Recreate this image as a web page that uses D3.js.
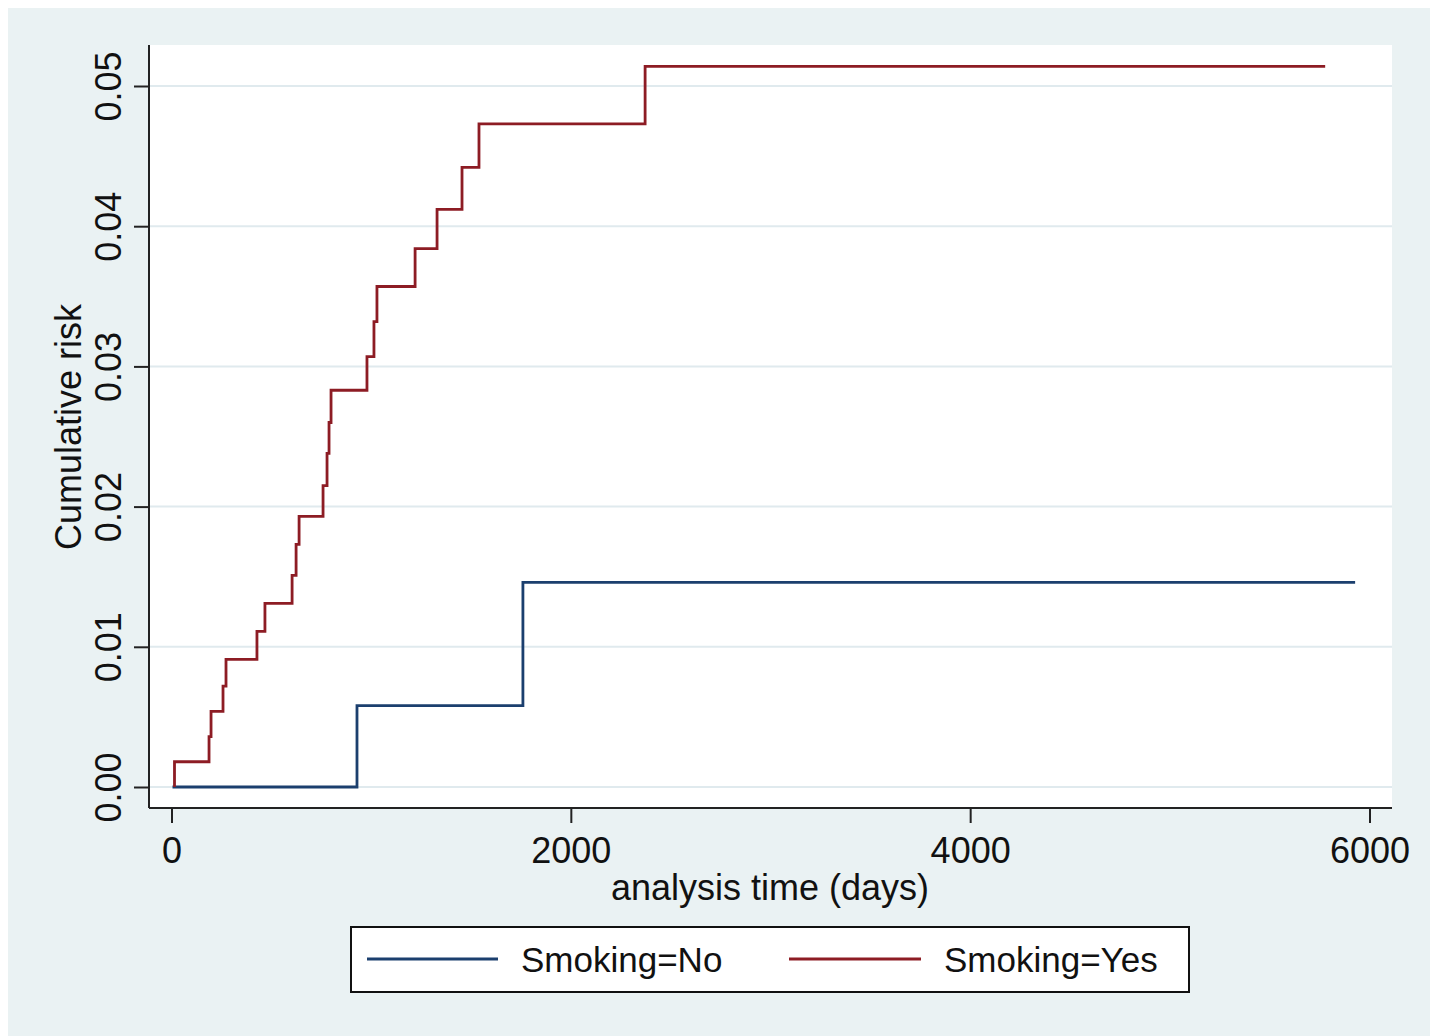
<!DOCTYPE html>
<html><head><meta charset="utf-8">
<script src="https://cdn.jsdelivr.net/npm/d3@7"></script>
<style>html,body{margin:0;padding:0;background:#fff;} text{font-family:"Liberation Sans",Arial,sans-serif;}</style>
</head><body>
<script>
// Data (analysis time in days, cumulative risk)
const seriesNames = ["Smoking=No", "Smoking=Yes"];
const noTimes = [5, 929, 1760, 5928];
const noRisk  = [0, 0.0058, 0.0146, 0.0146];
const yesTimes = [15, 15, 188, 198, 258, 273, 428, 468, 604, 624, 639, 759, 779, 789, 799, 979, 1014, 1029, 1220, 1330, 1455, 1540, 2372, 5778];
const yesRisk  = [0, 0.0018, 0.0036, 0.0054, 0.0072, 0.0091, 0.0111, 0.0131, 0.0151, 0.0173, 0.0193, 0.0215, 0.0238, 0.0260, 0.0283, 0.0307, 0.0332, 0.0357, 0.0384, 0.0412, 0.0442, 0.0473, 0.0514, 0.0514];
const xTicks = [0, 2000, 4000, 6000];
const yTicks = [0, 0.01, 0.02, 0.03, 0.04, 0.05];
const xTitle = "analysis time (days)";
const yTitle = "Cumulative risk";

const W = 1430, H = 1036;
const svg = d3.select("body").append("svg").attr("width", W).attr("height", H);
svg.append("rect").attr("x", 8).attr("y", 8).attr("width", W - 8).attr("height", H - 8).attr("fill", "#eaf2f3");

const plot = {left: 149, right: 1392, top: 45, bottom: 808};
svg.append("rect").attr("x", plot.left).attr("y", plot.top)
  .attr("width", plot.right - plot.left).attr("height", plot.bottom - plot.top).attr("fill", "#ffffff");

const x = d3.scaleLinear().domain([0, 6000]).range([171.5, 1369.5]);
const y = d3.scaleLinear().domain([0, 0.05]).range([787, 86]);

// gridlines
svg.append("g").selectAll("line").data(yTicks).join("line")
  .attr("x1", plot.left + 1).attr("x2", plot.right)
  .attr("y1", d => y(d)).attr("y2", d => y(d))
  .attr("stroke", "#e0eaee").attr("stroke-width", 2);

// axes
const xAxis = d3.axisBottom(x).tickValues(xTicks).tickFormat(d3.format("d")).tickSize(15).tickPadding(14);
const gx = svg.append("g").attr("transform", `translate(0,${plot.bottom})`).call(xAxis);
gx.select(".domain").attr("d", `M${plot.left},0H${plot.right}`).attr("stroke", "#222").attr("stroke-width", 2);
gx.selectAll(".tick line").attr("stroke", "#222").attr("stroke-width", 2);
gx.selectAll(".tick text").attr("font-size", 36).attr("fill", "#111").attr("font-family", "Liberation Sans, Arial, sans-serif");

const yAxis = d3.axisLeft(y).tickValues(yTicks).tickFormat(d3.format(".2f")).tickSize(15).tickPadding(0);
const gy = svg.append("g").attr("transform", `translate(${plot.left},0)`).call(yAxis);
gy.select(".domain").attr("d", `M0,${plot.top}V${plot.bottom}`).attr("stroke", "#222").attr("stroke-width", 2);
gy.selectAll(".tick line").attr("stroke", "#222").attr("stroke-width", 2);
gy.selectAll(".tick text")
  .attr("font-size", 36).attr("fill", "#111").attr("font-family", "Liberation Sans, Arial, sans-serif")
  .attr("text-anchor", "middle").attr("x", null)
  .attr("transform", "translate(-28,0) rotate(-90)")
  .attr("dy", "0");

// titles
svg.append("text").attr("x", 770).attr("y", 900).attr("text-anchor", "middle")
  .attr("font-size", 36).attr("fill", "#111").text(xTitle);
svg.append("text").attr("transform", "translate(81,427) rotate(-90)").attr("text-anchor", "middle")
  .attr("font-size", 36).attr("fill", "#111").text(yTitle);

// curves
const line = d3.line().x(d => x(d[0])).y(d => y(d[1])).curve(d3.curveStepAfter);
const noPts = noTimes.map((t, i) => [t, noRisk[i]]);
const yesPts = yesTimes.map((t, i) => [t, yesRisk[i]]);
const colors = ["#1b3f6e", "#8d1c24"];
svg.append("path").attr("d", line(noPts)).attr("fill", "none").attr("stroke", colors[0]).attr("stroke-width", 2.8);
svg.append("path").attr("d", line(yesPts)).attr("fill", "none").attr("stroke", colors[1]).attr("stroke-width", 2.8);

// legend
const lg = svg.append("g");
lg.append("rect").attr("x", 351).attr("y", 927).attr("width", 838).attr("height", 65)
  .attr("fill", "#fff").attr("stroke", "#111").attr("stroke-width", 2);
const legendItems = [{x1: 367, x2: 498, tx: 521}, {x1: 789, x2: 921, tx: 944}];
legendItems.forEach((it, i) => {
  lg.append("line").attr("x1", it.x1).attr("x2", it.x2).attr("y1", 959).attr("y2", 959)
    .attr("stroke", colors[i]).attr("stroke-width", 2.8);
  lg.append("text").attr("x", it.tx).attr("y", 972).attr("font-size", 35).attr("fill", "#111").text(seriesNames[i]);
});
</script>
</body></html>
